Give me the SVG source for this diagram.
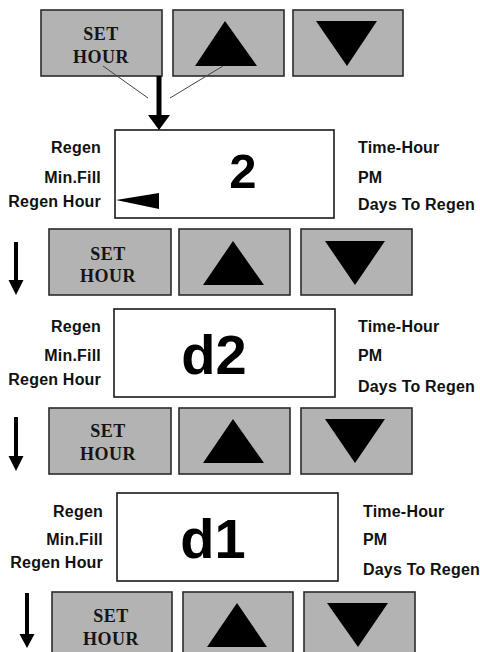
<svg xmlns="http://www.w3.org/2000/svg" width="480" height="652" viewBox="0 0 480 652">
<style>
.btn{fill:#b3b3b3;stroke:#2b2b2b;stroke-width:1.6}
.tri{fill:#000}
.disp{fill:#fff;stroke:#1a1a1a;stroke-width:1.6}
.bt{font-family:"Liberation Serif",serif;font-weight:bold;font-size:18px;fill:#141414;text-anchor:middle;letter-spacing:0.5px}
.lbl{font-family:"Liberation Sans",Arial,sans-serif;font-weight:bold;font-size:16px;fill:#111;letter-spacing:0.2px}
.l{text-anchor:end}
.big{font-family:"Liberation Sans",Arial,sans-serif;font-weight:bold;fill:#000;text-anchor:middle}
.thin{stroke:#444;stroke-width:1;fill:none}
.shaft{stroke:#000;fill:none}
</style>
<rect width="480" height="652" fill="#fff"/>

<!-- Row 1 buttons -->
<g id="set1"><rect class="btn" x="41" y="10" width="121" height="66"/><text class="bt" x="101" y="40">SET</text><text class="bt" x="101" y="63">HOUR</text></g>
<g id="up1"><rect class="btn" x="173" y="10" width="111" height="66"/><polygon class="tri" points="225,21 257,66 195,66"/></g>
<g id="down1"><rect class="btn" x="293" y="10" width="110" height="66"/><polygon class="tri" points="316,21 377,21 347,66"/></g>

<!-- Display 1 -->
<g id="display1"><rect class="disp" x="115" y="130" width="219" height="88"/><text class="big" x="243" y="188" font-size="49">2</text><polygon class="tri" points="116,200 159,193 159,209"/>
<text class="lbl l" x="101" y="153">Regen</text><text class="lbl l" x="101" y="183">Min.Fill</text><text class="lbl l" x="101" y="207">Regen Hour</text>
<text class="lbl" x="358" y="153">Time-Hour</text><text class="lbl" x="358" y="183">PM</text><text class="lbl" x="358" y="210">Days To Regen</text></g>

<!-- Row 2 buttons -->
<g id="set2"><rect class="btn" x="49" y="229" width="122" height="66"/><text class="bt" x="108" y="260">SET</text><text class="bt" x="108" y="282">HOUR</text></g>
<g id="up2"><rect class="btn" x="179" y="229" width="111" height="66"/><polygon class="tri" points="233,241 264,285 203,285"/></g>
<g id="down2"><rect class="btn" x="301" y="229" width="111" height="66"/><polygon class="tri" points="325,241 385,241 355,285"/></g>

<!-- Display 2 -->
<g id="display2"><rect class="disp" x="114" y="309" width="221" height="88"/><text class="big" x="214" y="374" font-size="56">d2</text>
<text class="lbl l" x="101" y="332">Regen</text><text class="lbl l" x="101" y="361">Min.Fill</text><text class="lbl l" x="101" y="385">Regen Hour</text>
<text class="lbl" x="358" y="332">Time-Hour</text><text class="lbl" x="358" y="361">PM</text><text class="lbl" x="358" y="392">Days To Regen</text></g>

<!-- Row 3 buttons -->
<g id="set3"><rect class="btn" x="49" y="408" width="122" height="66"/><text class="bt" x="108" y="437">SET</text><text class="bt" x="108" y="460">HOUR</text></g>
<g id="up3"><rect class="btn" x="179" y="408" width="111" height="66"/><polygon class="tri" points="233,419 264,463 203,463"/></g>
<g id="down3"><rect class="btn" x="301" y="408" width="111" height="66"/><polygon class="tri" points="325,419 385,419 355,463"/></g>

<!-- Display 3 -->
<g id="display3"><rect class="disp" x="117" y="493" width="221" height="88"/><text class="big" x="213" y="558" font-size="56">d1</text>
<text class="lbl l" x="103" y="517">Regen</text><text class="lbl l" x="103" y="545">Min.Fill</text><text class="lbl l" x="103" y="568">Regen Hour</text>
<text class="lbl" x="363" y="517">Time-Hour</text><text class="lbl" x="363" y="545">PM</text><text class="lbl" x="363" y="575">Days To Regen</text></g>

<!-- Row 4 buttons -->
<g id="set4"><rect class="btn" x="52" y="592" width="120" height="70"/><text class="bt" x="111" y="622">SET</text><text class="bt" x="111" y="645">HOUR</text></g>
<g id="up4"><rect class="btn" x="183" y="592" width="110" height="70"/><polygon class="tri" points="237,603 267,647 207,647"/></g>
<g id="down4"><rect class="btn" x="304" y="592" width="111" height="70"/><polygon class="tri" points="327,603 388,603 358,647"/></g>

<!-- Connectors -->
<g id="connectors">
<line class="thin" x1="103" y1="66" x2="148" y2="98"/>
<line class="thin" x1="223" y1="66" x2="170" y2="98"/>
<line class="shaft" x1="159" y1="76" x2="159" y2="116" stroke-width="5"/>
<polygon class="tri" points="148,115 170,115 159,130"/>
<line class="shaft" x1="16" y1="242" x2="16" y2="281" stroke-width="4"/>
<polygon class="tri" points="8.5,280 23.5,280 16,295"/>
<line class="shaft" x1="16" y1="417" x2="16" y2="457" stroke-width="4"/>
<polygon class="tri" points="8.5,456 23.5,456 16,471"/>
<line class="shaft" x1="27" y1="593" x2="27" y2="636" stroke-width="4"/>
<polygon class="tri" points="19.5,634 34.5,634 27,648"/>
</g>
</svg>
